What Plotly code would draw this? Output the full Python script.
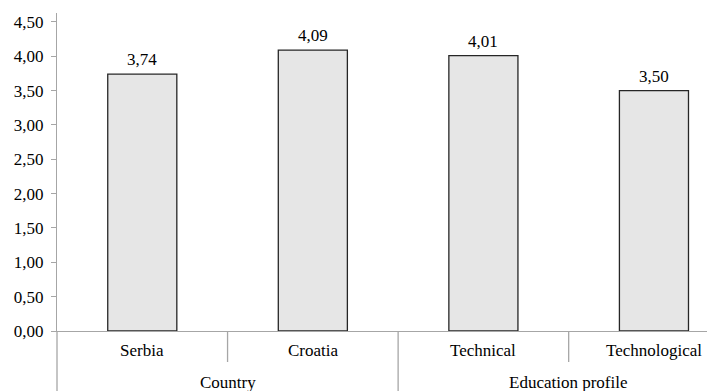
import plotly.graph_objects as go

categories = ["Serbia", "Croatia", "Technical", "Technological"]
groups = ["Country", "Education profile"]
group_members = [[0, 1], [2, 3]]
values = [3.74, 4.09, 4.01, 3.50]
value_labels = ["3,74", "4,09", "4,01", "3,50"]
y_ticks = [0, 0.5, 1.0, 1.5, 2.0, 2.5, 3.0, 3.5, 4.0, 4.5]

FONT = "Liberation Serif"
AXIS_COLOR = "#a6a6a6"
plot_h = 391 - 13 - 60

x_pos = list(range(len(categories)))

fig = go.Figure()
fig.add_trace(go.Bar(
    x=x_pos, y=values, width=0.405,
    marker=dict(color="#e6e6e6", line=dict(color="#262626", width=1.3)),
    hoverinfo="skip",
))

for xi, v, lab in zip(x_pos, values, value_labels):
    fig.add_annotation(x=xi, y=v, xref="x", yref="y", text=lab, showarrow=False,
                       yanchor="bottom", yshift=3, font=dict(family=FONT, size=17))
for xi, c in zip(x_pos, categories):
    fig.add_annotation(x=xi, y=0, xref="x", yref="paper", text=c, showarrow=False,
                       yanchor="middle", yshift=-19, font=dict(family=FONT, size=17))
for g, mem in zip(groups, group_members):
    cx = sum(mem) / len(mem)
    fig.add_annotation(x=cx, y=0, xref="x", yref="paper", text=g, showarrow=False,
                       yanchor="middle", yshift=-51, font=dict(family=FONT, size=17))

inner_len = 31 / plot_h
outer_len = 62 / plot_h
for mem in group_members:
    for a in mem[:-1]:
        fig.add_shape(type="line", xref="x", yref="paper", x0=a + 0.5, x1=a + 0.5,
                      y0=0, y1=-inner_len, line=dict(color=AXIS_COLOR, width=1.3))
for mem in group_members[:-1]:
    b = mem[-1] + 0.5
    fig.add_shape(type="line", xref="x", yref="paper", x0=b, x1=b,
                  y0=0, y1=-outer_len, line=dict(color=AXIS_COLOR, width=1.3))
fig.add_shape(type="line", xref="paper", yref="paper", x0=0, x1=0,
              y0=0, y1=-outer_len, line=dict(color=AXIS_COLOR, width=1.3))

fig.update_layout(
    width=707, height=391,
    margin=dict(l=57, r=0, t=13, b=60),
    paper_bgcolor="white", plot_bgcolor="white",
    separators=", ",
    showlegend=False,
    font=dict(family=FONT, size=17, color="black"),
    xaxis=dict(range=[-0.5, 3.311], showticklabels=False, showgrid=False, zeroline=False,
               showline=True, linecolor=AXIS_COLOR, linewidth=1.3, ticks=""),
    yaxis=dict(range=[0, 4.63], tickvals=y_ticks, tickformat=".2f", showgrid=False,
               zeroline=False, showline=True, linecolor=AXIS_COLOR, linewidth=1.3,
               ticks="outside", ticklen=5, tickcolor=AXIS_COLOR, tickwidth=1.3,
               ticklabelstandoff=4,
               tickfont=dict(family=FONT, size=17, color="black")),
)

fig.write_html("out.html")
